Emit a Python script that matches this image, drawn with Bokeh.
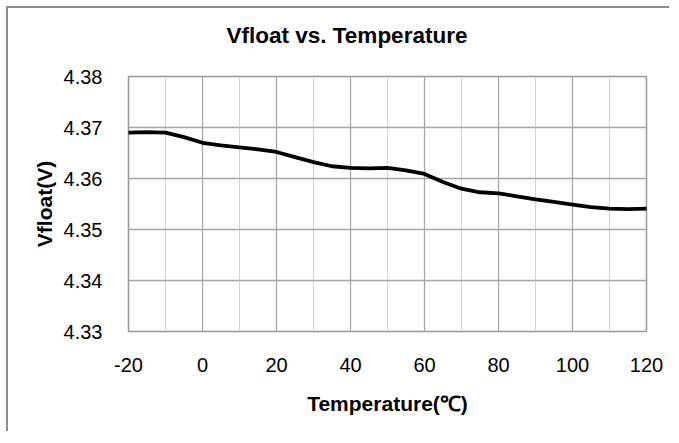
from bokeh.plotting import figure
from bokeh.models import Range1d, FixedTicker, NumeralTickFormatter
from bokeh.embed import file_html
from bokeh.resources import INLINE

# Data
temperature_c = [-20, -15, -10, -5, 0, 5, 10, 15, 20, 25, 30, 35, 40, 45, 50, 55,
                 60, 65, 70, 75, 80, 85, 90, 95, 100, 105, 110, 115, 120]
vfloat_v = [4.3690, 4.3691, 4.3690, 4.3681, 4.3670, 4.3665, 4.3661, 4.3657,
            4.3652, 4.3642, 4.3632, 4.3624, 4.3621, 4.3620, 4.3621, 4.3616,
            4.3609, 4.3593, 4.3580, 4.3573, 4.3571, 4.3565, 4.3559, 4.3554,
            4.3549, 4.3544, 4.3541, 4.3540, 4.3541]

x_ticks = [-20, 0, 20, 40, 60, 80, 100, 120]
x_minor = [-10, 10, 30, 50, 70, 90, 110]
y_ticks = [4.33, 4.34, 4.35, 4.36, 4.37, 4.38]

title_text = "Vfloat vs. Temperature"
x_label = "Temperature(\u2103)"
y_label = "Vfloat(V)"

FONT = "Liberation Sans"

p = figure(width=663, height=425, output_backend="svg", toolbar_location=None,
           x_range=Range1d(-20, 120), y_range=Range1d(4.33, 4.38),
           min_border_left=120, min_border_right=25, min_border_top=68,
           min_border_bottom=102, title=title_text + "\n ")
p.styles = {"border-left": "2px solid #8c8c8c", "border-top": "2px solid #8c8c8c",
            "margin-left": "6px", "margin-top": "6px"}

p.title.text_font = FONT
p.title.text_font_size = "22.5px"
p.title.text_font_style = "bold"
p.title.text_color = "#000000"
p.title.align = "left"
p.title.offset = 98
p.title.standoff = 8

p.line(temperature_c, vfloat_v, line_color="#000000", line_width=3.8,
       line_join="round", line_cap="round")

p.xaxis.ticker = FixedTicker(ticks=x_ticks, minor_ticks=x_minor)
p.yaxis.ticker = FixedTicker(ticks=y_ticks)
p.yaxis.formatter = NumeralTickFormatter(format="0.00")
p.xaxis.major_label_overrides = {t: str(t) for t in x_ticks}

for ax in (p.xaxis, p.yaxis):
    ax.axis_line_color = None
    ax.major_tick_line_color = None
    ax.minor_tick_line_color = None
    ax.major_label_text_font = FONT
    ax.major_label_text_font_size = "20px"
    ax.major_label_text_color = "#000000"
    ax.axis_label_text_font = FONT
    ax.axis_label_text_font_size = "21px"
    ax.axis_label_text_font_style = "bold"
    ax.axis_label_text_color = "#000000"

p.xaxis.axis_label = x_label
p.yaxis.axis_label = y_label
p.xaxis.major_label_standoff = 20
p.yaxis.major_label_standoff = 20
p.xaxis.axis_label_standoff = 17
p.yaxis.axis_label_standoff = 5

p.xgrid.grid_line_color = "#a6a6a6"
p.xgrid.minor_grid_line_color = "#d4d4d4"
p.ygrid.grid_line_color = "#a6a6a6"
p.xgrid.grid_line_width = 1.3
p.ygrid.grid_line_width = 1.3

p.outline_line_color = "#999999"
p.outline_line_width = 1.5
p.background_fill_color = "#ffffff"
p.border_fill_color = "#ffffff"

open("out.html", "w").write(file_html(p, INLINE))
